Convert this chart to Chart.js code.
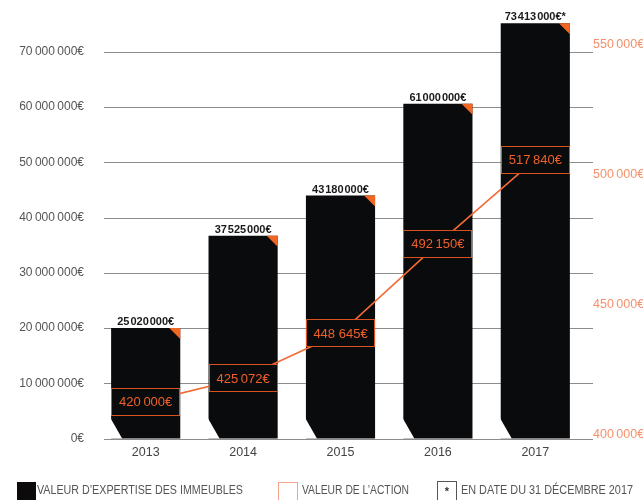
<!DOCTYPE html>
<html>
<head>
<meta charset="utf-8">
<script src="https://cdn.jsdelivr.net/npm/chart.js@4.4.1/dist/chart.umd.min.js"></script>
<style>
  body { margin: 0; background: #fff; }
  #chart { display: block; }
</style>
</head>
<body>
<canvas id="chart" width="643" height="500"></canvas>
<script>
const years = ['2013', '2014', '2015', '2016', '2017']
// bar heights as drawn in the picture (in €)
const expertiseValues = [20000000, 36700000, 44000000, 60600000, 75200000]
const expertiseLabels = ['25\u200A020\u200A000€', '37\u200A525\u200A000€', '43\u200A180\u200A000€', '61\u200A000\u200A000€', '73\u200A413\u200A000€*']
// share value points as drawn (in €)
const actionValues = [412400, 421600, 438900, 473200, 505700]
const actionLabels = ['420\u2009000€', '425\u2009072€', '448 645€', '492\u2009150€', '517\u2009840€']
const leftTicks = [0, 10000000, 20000000, 30000000, 40000000, 50000000, 60000000, 70000000]
const rightTicks = [400000, 450000, 500000, 550000]

const FONT = "'Liberation Sans', Arial, sans-serif"
const BAR = '#0a0b0d'
const ORANGE = '#f0602a'

function fmt(v) {
  return String(v).replace(/\B(?=(\d{3})+(?!\d))/g, '\u2009') + '€'
}

const decorPlugin = {
  id: 'decor',
  beforeDatasetsDraw(chart) {
    const ctx = chart.ctx
    const y = chart.scales.y
    ctx.save()
    ctx.strokeStyle = '#8c8c8c'
    ctx.lineWidth = 1
    leftTicks.forEach(v => {
      const py = Math.round(y.getPixelForValue(v)) + 0.5
      ctx.beginPath()
      ctx.moveTo(104, py)
      ctx.lineTo(593, py)
      ctx.stroke()
    })
    ctx.restore()
  },
  afterDatasetsDraw(chart) {
    const ctx = chart.ctx
    const bars = chart.getDatasetMeta(0).data
    const pts = chart.getDatasetMeta(1).data
    ctx.save()
    bars.forEach((b, i) => {
      const left = b.x - b.width / 2
      const right = b.x + b.width / 2
      // cut bottom-left corner
      ctx.fillStyle = '#fff'
      ctx.beginPath()
      ctx.moveTo(left - 1, b.base - 21)
      ctx.lineTo(left - 1, b.base)
      ctx.lineTo(left + 11, b.base)
      ctx.closePath()
      ctx.fill()
      // orange corner
      ctx.fillStyle = '#f26522'
      ctx.beginPath()
      ctx.moveTo(right - 11, b.y)
      ctx.lineTo(right, b.y)
      ctx.lineTo(right, b.y + 11)
      ctx.closePath()
      ctx.fill()
      // value above bar
      ctx.fillStyle = '#1a1a1a'
      ctx.font = 'bold 11px ' + FONT
      ctx.textAlign = 'center'
      ctx.textBaseline = 'alphabetic'
      ctx.fillText(expertiseLabels[i], b.x, b.y - 3)
    })
    // boxes on the share value line
    pts.forEach((p, i) => {
      const b = bars[i]
      const left = Math.round(b.x - b.width / 2) + 0.5
      const w = Math.round(b.width) - 1
      const top = Math.round(p.y - 13.5) + 0.5
      ctx.fillStyle = BAR
      ctx.fillRect(left, top, w, 27)
      ctx.strokeStyle = '#d9511f'
      ctx.lineWidth = 1
      ctx.strokeRect(left, top, w, 27)
      ctx.fillStyle = ORANGE
      ctx.font = '13px ' + FONT
      ctx.textAlign = 'center'
      ctx.textBaseline = 'middle'
      ctx.fillText(actionLabels[i], b.x, p.y + 1)
    })
    ctx.restore()
  },
  afterDraw(chart) {
    const ctx = chart.ctx
    ctx.save()
    ctx.font = '12.5px ' + FONT
    ctx.textBaseline = 'middle'
    ctx.textAlign = 'left'
    // legend
    ctx.fillStyle = '#0d0a0b'
    ctx.fillRect(17, 482, 19, 18)
    ctx.fillStyle = '#555'
    ctx.fillText('VALEUR D\u2019EXPERTISE DES IMMEUBLES', 37, 491, 206)

    ctx.strokeStyle = '#f4a488'
    ctx.lineWidth = 1
    ctx.strokeRect(278.5, 482.5, 19, 18)
    ctx.fillStyle = '#555'
    ctx.fillText('VALEUR DE L\u2019ACTION', 302, 491, 107)

    ctx.strokeStyle = '#555'
    ctx.strokeRect(437.5, 481.5, 19, 19)
    ctx.fillStyle = '#333'
    ctx.textAlign = 'center'
    ctx.font = 'bold 11px ' + FONT
    ctx.fillText('*', 447, 492)
    ctx.textAlign = 'left'
    ctx.font = '12.5px ' + FONT
    ctx.fillStyle = '#555'
    ctx.fillText('EN DATE DU 31 DÉCEMBRE 2017', 461, 491, 172)
    ctx.restore()
  }
}

new Chart(document.getElementById('chart'), {
  data: {
    labels: years,
    datasets: [
      {
        type: 'bar',
        label: 'Valeur d\u2019expertise des immeubles',
        data: expertiseValues,
        backgroundColor: BAR,
        barPercentage: 0.71,
        categoryPercentage: 1,
        yAxisID: 'y',
        order: 2,
        clip: false
      },
      {
        type: 'line',
        label: 'Valeur de l\u2019action',
        data: actionValues,
        borderColor: '#f26a36',
        borderWidth: 1.6,
        pointRadius: 0,
        tension: 0,
        yAxisID: 'y2',
        order: 1
      }
    ]
  },
  options: {
    responsive: false,
    animation: false,
    layout: { padding: { top: 10, left: 0, right: 0, bottom: 0 } },
    plugins: {
      legend: { display: false },
      tooltip: { enabled: false }
    },
    scales: {
      x: {
        grid: { display: false, drawTicks: false },
        border: { display: false },
        ticks: { color: '#444', font: { family: FONT, size: 12.5 }, padding: 7 },
        afterFit(s) { s.height = 61.5; s.paddingLeft = 0; s.paddingRight = 0 }
      },
      y: {
        position: 'left',
        min: 0,
        max: 77600000,
        grid: { display: false, drawTicks: false },
        border: { display: false },
        afterBuildTicks(s) { s.ticks = leftTicks.map(v => ({ value: v })) },
        ticks: {
          color: '#555',
          font: { family: FONT, size: 12 },
          padding: 13,
          callback: v => fmt(v)
        },
        afterFit(s) { s.width = 97; s.paddingTop = 0; s.paddingBottom = 0 }
      },
      y2: {
        position: 'right',
        min: 398300,
        max: 563200,
        grid: { display: false, drawTicks: false },
        border: { display: false },
        afterBuildTicks(s) { s.ticks = rightTicks.map(v => ({ value: v })) },
        ticks: {
          color: '#f5906b',
          font: { family: FONT, size: 12.5 },
          padding: 9,
          callback: v => fmt(v)
        },
        afterFit(s) { s.width = 59; s.paddingTop = 0; s.paddingBottom = 0 }
      }
    }
  },
  plugins: [decorPlugin]
})
</script>
</body>
</html>
